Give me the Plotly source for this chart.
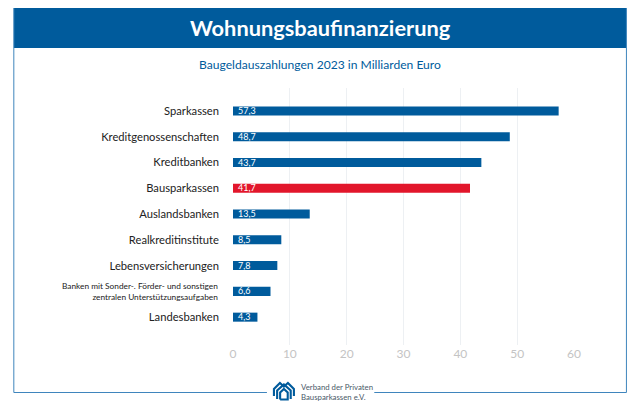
import plotly.graph_objects as go

categories = ["Sparkassen", "Kreditgenossenschaften", "Kreditbanken", "Bausparkassen",
              "Auslandsbanken", "Realkreditinstitute", "Lebensversicherungen",
              "Banken mit Sonder-. Förder- und sonstigen<br>zentralen Unterstützungsaufgaben",
              "Landesbanken"]
values = [57.3, 48.7, 43.7, 41.7, 13.5, 8.5, 7.8, 6.6, 4.3]
value_labels = ["57,3", "48,7", "43,7", "41,7", "13,5", "8,5", "7,8", "6,6", "4,3"]
highlight = "Bausparkassen"
title = "Wohnungsbaufinanzierung"
subtitle = "Baugeldauszahlungen 2023 in Milliarden Euro"
x_ticks = [0, 10, 20, 30, 40, 50, 60]

BLUE = "#005b9c"
RED = "#e2162b"
FRAME = "#3f85bd"
FONT = "Lato, Open Sans, sans-serif"
# page has an 8 px body margin
OFF = 8
W, H = 640 - 2 * OFF, 412 - 2 * OFF
L, R, T, B = 232.5, 574.0, 88.0, 345.0   # plot area in window pixels
px = lambda v: (v - L) / (R - L)
py = lambda v: (B - v) / (B - T)

fig = go.Figure(go.Bar(
    x=values, y=categories, orientation="h", width=0.35,
    marker=dict(color=[RED if c == highlight else BLUE for c in categories], line_width=0),
    cliponaxis=False, hoverinfo="skip",
))

frame = dict(type="line", xref="paper", yref="paper", line=dict(color=FRAME, width=1))
shapes = [
    dict(frame, x0=px(13), x1=px(13), y0=py(7), y1=py(392.5)),
    dict(frame, x0=px(626.5), x1=px(626.5), y0=py(7), y1=py(392.5)),
    dict(frame, x0=px(13), x1=px(266.5), y0=py(392.5), y1=py(392.5)),
    dict(frame, x0=px(374), x1=px(626.5), y0=py(392.5), y1=py(392.5)),
    dict(type="rect", xref="paper", yref="paper", x0=px(13), x1=px(626.5), y0=py(7), y1=py(48),
         fillcolor=BLUE, line_width=0, layer="below"),
]

def logo_path(points):
    return "M " + " L ".join(f"{px(x):.5f} {py(y):.5f}" for x, y in points)

logo_lines = [
    [(273.5, 396), (273.5, 389), (279.5, 383), (283.5, 386.5), (287.5, 383), (293.5, 389), (293.5, 396)],
    [(276.7, 399), (276.7, 390.5), (283.5, 384.5), (290.3, 390.5), (290.3, 399)],
    [(279.7, 399.5), (279.7, 392.5), (283.5, 389), (287.3, 392.5), (287.3, 399.5), (279.7, 399.5)],
]
for pts in logo_lines:
    shapes.append(dict(type="path", xref="paper", yref="paper", layer="above",
                       path=logo_path(pts), line=dict(color=BLUE, width=2.1)))

center = dict(xref="paper", yref="paper", showarrow=False, xanchor="center", yanchor="middle")
annotations = [
    dict(center, text=title, x=px(320), y=py(27.5),
         font=dict(color="white", size=21.8, family=FONT, weight="bold")),
    dict(center, text=subtitle, x=px(320), y=py(64.5),
         font=dict(color=BLUE, size=12.1, family=FONT)),
    dict(center, text="Verband der Privaten<br>Bausparkassen e.V.", x=px(299), y=py(392),
         xanchor="left", align="left", font=dict(color="#4a5a68", size=7.8, family=FONT)),
]
# the long category label is set smaller, with its own tight line spacing
long_label = next(c for c in categories if "<br>" in c)
annotations.append(dict(text=long_label, x=px(219), y=long_label, xref="paper", yref="y", showarrow=False,
                        xanchor="right", yanchor="middle", align="right",
                        font=dict(color="#222222", size=8.3, family=FONT)))
# value labels at the bar start
for cat, lab in zip(categories, value_labels):
    annotations.append(dict(text=lab, x=0, y=cat, xref="x", yref="y", showarrow=False,
                            xanchor="left", yanchor="middle", xshift=3, yshift=0.5,
                            font=dict(color="white", size=9, family=FONT)))

fig.update_layout(
    width=W, height=H,
    margin=dict(l=L - OFF, r=W - (R - OFF), t=T - OFF, b=H - (B - OFF), autoexpand=False),
    paper_bgcolor="white", plot_bgcolor="white", showlegend=False,
    font=dict(family=FONT, color="#222222", size=11),
    xaxis=dict(range=[0, 60], tickvals=x_ticks, showgrid=True, gridcolor="#edf0f3", gridwidth=1,
               zeroline=False, showline=False, ticks="",
               tickfont=dict(color="#c4c4c4", size=12, family=FONT)),
    yaxis=dict(categoryorder="array", categoryarray=categories, range=[9.08, -0.89],
               tickvals=categories, ticktext=["" if c == long_label else c for c in categories],
               showgrid=False, zeroline=False, showline=False, ticks="", ticklabelstandoff=13,
               tickfont=dict(color="#222222", size=11.2, family=FONT)),
    shapes=shapes, annotations=annotations,
)
fig.write_html("out.html")
